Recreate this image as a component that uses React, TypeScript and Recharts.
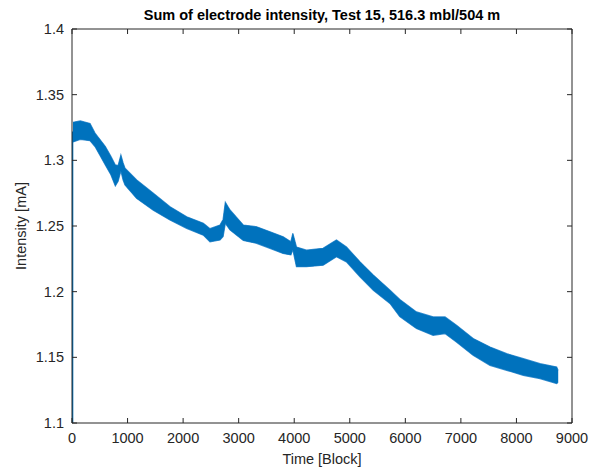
import { ComposedChart, Area, Line, XAxis, YAxis } from "recharts";

// Envelope of the noisy trace (block, lower/upper mA).
const TIME = [
  18, 150, 324, 414, 500, 600, 700, 780, 830, 880, 920, 954, 1164, 1464, 1764,
  2064, 2364, 2484, 2664, 2720, 2760, 2844, 3084, 3324, 3564, 3800, 3940, 3975,
  4040, 4220, 4520, 4760, 4940, 5184, 5424, 5724, 5900, 6200, 6500, 6714, 6920,
  7220, 7524, 7824, 8124, 8424, 8724, 8750,
];
const LOWER = [
  1.314, 1.316, 1.315, 1.3105, 1.304, 1.2965, 1.289, 1.2805, 1.284, 1.292, 1.285,
  1.2812, 1.271, 1.262, 1.2546, 1.2482, 1.243, 1.238, 1.2393, 1.242, 1.252, 1.247,
  1.239, 1.2368, 1.233, 1.2291, 1.228, 1.232, 1.219, 1.219, 1.2202, 1.2266, 1.2227,
  1.2113, 1.2011, 1.191, 1.181, 1.172, 1.1668, 1.1681, 1.1617, 1.1516, 1.1439,
  1.1401, 1.1363, 1.1338, 1.13, 1.131,
];
const UPPER = [
  1.329, 1.33, 1.328, 1.3207, 1.316, 1.3105, 1.303, 1.2965, 1.296, 1.304, 1.298,
  1.294, 1.285, 1.275, 1.2647, 1.257, 1.252, 1.248, 1.2507, 1.255, 1.268, 1.2622,
  1.2507, 1.2494, 1.2456, 1.2418, 1.238, 1.2444, 1.234, 1.2316, 1.233, 1.2393,
  1.234, 1.2227, 1.2126, 1.2011, 1.194, 1.1846, 1.1808, 1.1808, 1.1745, 1.1643,
  1.1579, 1.1528, 1.149, 1.1452, 1.1426, 1.14,
];
// first sample sits far below the axis, giving the vertical stroke at t=0
const LEAD_TIME = [0, 1];
const LEAD_VALUE = [0, 1.322];

const X_TICKS = [0, 1000, 2000, 3000, 4000, 5000, 6000, 7000, 8000, 9000];
const Y_TICKS = [1.1, 1.15, 1.2, 1.25, 1.3, 1.35, 1.4];

const BLUE = "#0072BD";
const AXIS = "#262626";
const FONT = '"Liberation Sans", Arial, Helvetica, sans-serif';

const band = TIME.map((t, i) => ({ t, range: [LOWER[i], UPPER[i]] }));
const lead = LEAD_TIME.map((t, i) => ({ t, v: LEAD_VALUE[i] }));

const tickStyle = { fill: AXIS, fontSize: 14.5, fontFamily: FONT };
// top/right box axes: tick marks only
const NoLabel = () => <g />;

export default function App() {
  return (
    <div style={{ position: "absolute", left: 0, top: 0, width: 589, height: 473, background: "#fff", fontFamily: FONT }}>
      <ComposedChart
        width={589}
        height={473}
        data={band}
        margin={{ top: 28, right: 16, bottom: 30, left: 12 }}
      >
        <XAxis
          dataKey="t"
          type="number"
          domain={[0, 9000]}
          ticks={X_TICKS}
          allowDataOverflow
          height={20}
          tickSize={-5}
          tickMargin={15}
          stroke={AXIS}
          tick={tickStyle}
        />
        <XAxis
          xAxisId="top"
          orientation="top"
          dataKey="t"
          type="number"
          domain={[0, 9000]}
          ticks={X_TICKS}
          allowDataOverflow
          height={1}
          tickSize={-5}
          tick={<NoLabel />}
          stroke={AXIS}
        />
        <YAxis
          type="number"
          domain={[1.1, 1.4]}
          ticks={Y_TICKS}
          allowDataOverflow
          width={60}
          tickSize={-5}
          tickMargin={13}
          stroke={AXIS}
          tick={tickStyle}
          tickFormatter={(v) => String(v)}
        />
        <YAxis
          yAxisId="right"
          orientation="right"
          type="number"
          domain={[1.1, 1.4]}
          ticks={Y_TICKS}
          allowDataOverflow
          width={1}
          tickSize={-5}
          tick={<NoLabel />}
          stroke={AXIS}
        />
        <Area
          type="linear"
          dataKey="range"
          fill={BLUE}
          fillOpacity={1}
          stroke="#3b8fcf"
          strokeWidth={1.2}
          isAnimationActive={false}
        />
        <Area
          data={band}
          xAxisId="top"
          yAxisId="right"
          type="linear"
          dataKey="range"
          fill={BLUE}
          fillOpacity={1}
          stroke="none"
          isAnimationActive={false}
        />
        <Line
          data={lead}
          dataKey="v"
          type="linear"
          stroke={BLUE}
          strokeWidth={2.5}
          dot={false}
          isAnimationActive={false}
        />
      </ComposedChart>
      <div style={{ position: "absolute", left: 72, width: 500, top: 7, textAlign: "center", fontSize: 14.5, fontWeight: "bold", color: "#000", whiteSpace: "nowrap" }}>
        Sum of electrode intensity, Test 15, 516.3 mbl/504 m
      </div>
      <div style={{ position: "absolute", left: 72, width: 500, top: 451, textAlign: "center", fontSize: 14.5, color: AXIS }}>
        Time [Block]
      </div>
      <div style={{ position: "absolute", left: 21 - 60, top: 226 - 9, width: 120, textAlign: "center", fontSize: 14.5, lineHeight: "18px", color: AXIS, transform: "rotate(-90deg)" }}>
        Intensity [mA]
      </div>
    </div>
  );
}
